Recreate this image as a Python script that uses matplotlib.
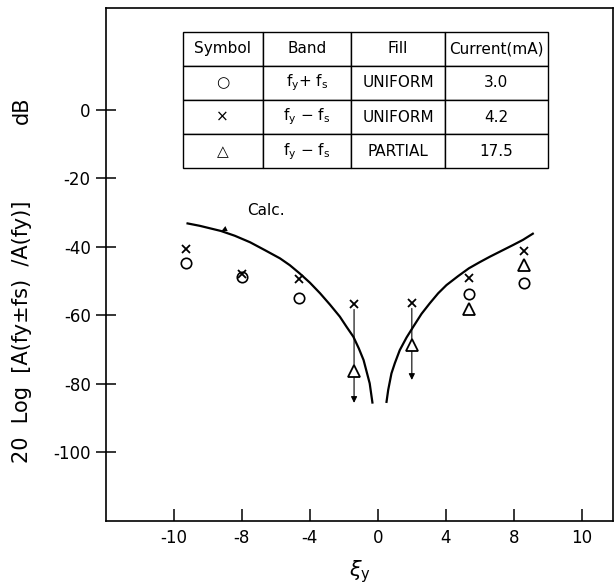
import numpy as np
import matplotlib

matplotlib.use("Agg")
import matplotlib.pyplot as plt

plt.rcParams["font.family"] = ["DejaVu Sans"]
plt.rcParams["mathtext.fontset"] = "dejavusans"

# x axis of the original is not linear: labels are evenly spaced
tick_xi = [-10, -8, -4, 0, 4, 8, 10]
tick_db = [0, -20, -40, -60, -80, -100]

# measured points (xi, dB)
circ_xi = [-9.65, -8.0, -4.65, 5.35, 8.3]
circ_db = [-44.9, -48.8, -55.0, -53.8, -50.6]

cross_xi = [-9.65, -8.0, -4.65, -1.4, 2.0, 5.35, 8.3]
cross_db = [-40.8, -48.0, -49.4, -56.7, -56.4, -49.1, -41.3]

tri_xi = [-1.4, 2.0, 5.35, 8.3]
tri_db = [-76.3, -68.7, -58.2, -45.3]

# downward arrows (upper limits) below the partial-fill points
lim_xi = [-1.4, 2.0]
lim_top = [-56.7, -56.4]
lim_tip = [-85.6, -78.9]

# calculated curve, two branches
calc_left_xi = [-9.6, -9.24, -8.62, -8.21, -7.52, -6.65, -5.76, -5.18, -4.6, -4.0,
                -3.4, -2.82, -2.24, -1.84, -1.44, -1.12, -0.84, -0.66, -0.48, -0.32]
calc_left_db = [-33.2, -33.9, -35.4, -36.8, -38.7, -41.0, -43.4, -45.4, -47.8, -50.5,
                -53.6, -56.9, -60.4, -63.4, -66.3, -69.7, -73.1, -76.5, -79.9, -85.5]
calc_right_xi = [0.51, 0.61, 0.8, 1.0, 1.29, 1.69, 2.08, 2.57, 3.06, 3.55,
                 4.04, 4.72, 5.36, 6.0, 6.6, 7.28, 7.96, 8.27, 8.56]
calc_right_db = [-85.3, -81.8, -77.0, -74.0, -70.2, -66.5, -63.4, -59.6, -56.5, -53.6,
                 -51.2, -48.6, -46.3, -44.5, -42.9, -41.2, -39.5, -38.0, -36.2]

table_cols = ["Symbol", "Band", "Fill", "Current(mA)"]
table_rows = [
    ["○", r"f$_\mathrm{y}$+ f$_\mathrm{s}$", "UNIFORM", "3.0"],
    ["×", r"f$_\mathrm{y}$ − f$_\mathrm{s}$", "UNIFORM", "4.2"],
    ["△", r"f$_\mathrm{y}$ − f$_\mathrm{s}$", "PARTIAL", "17.5"],
]

knots_xi = np.array([-12, -10, -8, -4, 0, 4, 8, 10, 12], dtype=float)
knots_u = np.arange(-4, 5, dtype=float)


def fwd(x):
    return np.interp(x, knots_xi, knots_u)


def inv(u):
    return np.interp(u, knots_u, knots_xi)


fig = plt.figure(figsize=(6.14, 5.86), dpi=100)
ax = fig.add_axes([106 / 614, 1 - 520.7 / 586, 507 / 614, 512.7 / 586])
ax.set_xscale("function", functions=(fwd, inv))
ax.set_xlim(-12, 10.92)
ax.set_ylim(-120, 29.7)

ax.plot(calc_left_xi, calc_left_db, color="k", lw=1.6)
ax.plot(calc_right_xi, calc_right_db, color="k", lw=1.6)

for x, top, tip in zip(lim_xi, lim_top, lim_tip):
    ax.annotate(
        "",
        xy=(x, tip),
        xytext=(x, top),
        arrowprops=dict(arrowstyle="-|>", lw=0.8, color="k", mutation_scale=9, shrinkA=4, shrinkB=0),
        zorder=2,
    )

ax.plot(circ_xi, circ_db, ls="none", marker="o", ms=7.5, mfc="none", mec="k", mew=1.2, zorder=4)
ax.plot(cross_xi, cross_db, ls="none", marker="x", ms=5.5, mec="k", mew=1.3, zorder=4)
ax.plot(tri_xi, tri_db, ls="none", marker="^", ms=9, mfc="white", mec="k", mew=1.3, zorder=4)

ax.annotate(
    "Calc.",
    xy=(-8.6, -35.4),
    xytext=(-6.6, -29.3),
    fontsize=11,
    ha="center",
    va="center",
    arrowprops=dict(arrowstyle="-|>", lw=0.0, color="k", mutation_scale=10, shrinkA=14, shrinkB=0),
)

ax.set_xticks(tick_xi)
ax.set_xticklabels([str(t) for t in tick_xi])
ax.set_yticks(tick_db)
ax.set_yticklabels([str(t) for t in tick_db])
ax.xaxis.set_minor_locator(matplotlib.ticker.NullLocator())
ax.tick_params(axis="x", direction="in", length=9, width=1.1, labelsize=12, pad=6)
ax.tick_params(axis="y", direction="inout", length=14, width=1.1, labelsize=12, pad=4)
for s in ax.spines.values():
    s.set_linewidth(1.2)

ax.set_xlabel(r"$\xi_\mathrm{y}$", fontsize=15, labelpad=8)

# y label: main part ends level with -100, "dB" sits level with 0
fig.text(22 / 614, 1 - 463 / 586, "20  Log  [A(fy±fs)  /A(fy)]",
         rotation=90, ha="center", va="bottom", fontsize=15)
fig.text(22 / 614, 1 - 110 / 586, "dB",
         rotation=90, ha="center", va="center", fontsize=15)

tbl = ax.table(
    cellText=table_rows,
    colLabels=table_cols,
    cellLoc="center",
    bbox=[0.151, 0.687, 0.721, 0.267],
    colWidths=[0.158, 0.175, 0.184, 0.204],
)
tbl.auto_set_font_size(False)
tbl.set_fontsize(11)
for cell in tbl.get_celld().values():
    cell.set_linewidth(1.0)
    cell.set_edgecolor("k")

fig.savefig("out.png", dpi=100)
